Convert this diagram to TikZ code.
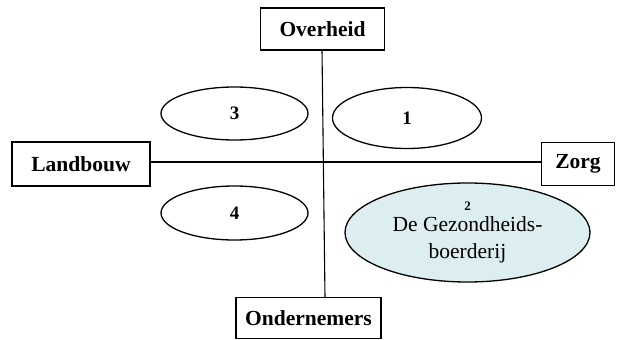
\documentclass[tikz,border=0pt]{standalone}
\usepackage{fontspec}
\setmainfont{Liberation Serif}
\usetikzlibrary{shapes.geometric}
\definecolor{lightcyan}{RGB}{220,238,240}
\tikzset{
  boxlabel/.style={draw, line width=1.5pt, rectangle, inner sep=0pt, font=\fontsize{21.5}{26}\selectfont\bfseries},
  oval/.style={draw, line width=1.3pt, ellipse, inner sep=0pt, font=\fontsize{19}{22}\selectfont\bfseries},
  axis/.style={line width=1.1pt}
}
\begin{document}
\begin{tikzpicture}[x=1pt,y=-1pt]
\useasboundingbox (0,0) rectangle (625,340);
\node[boxlabel, minimum width=124pt, minimum height=42pt] (over) at (322.5,29) {Overheid};
\node[boxlabel, minimum width=138pt, minimum height=44pt] (land) at (81,164) {Landbouw};
\node[boxlabel, minimum width=73pt, minimum height=43pt] (zorg) at (578,164) {Zorg};
\node[boxlabel, minimum width=145pt, minimum height=41pt] (onder) at (308.5,318) {Ondernemers};
\coordinate (vtop) at (322,50);
\coordinate (vbot) at (325,297.5);
\coordinate (hl) at (150,162);
\coordinate (hr) at (541.5,162);
\draw[axis] (vtop) -- (vbot);
\draw[axis] (hl) -- (hr);
\node[oval, minimum width=147pt, minimum height=53pt] (e3) at (234.5,113.5) {3};
\node[oval, minimum width=147pt, minimum height=54pt] (e4) at (234.5,213) {4};
\node[oval, minimum width=149pt, minimum height=61pt] (e1) at (407,118) {1};
\node[oval, fill=lightcyan, minimum width=245pt, minimum height=99pt, align=center, font=\fontsize{21.5}{27}\selectfont] (e2) at (467.5,232.5) {{\fontsize{13}{13}\selectfont\bfseries 2}\\[-6pt]De Gezondheids-\\boerderij};
\end{tikzpicture}
\end{document}
